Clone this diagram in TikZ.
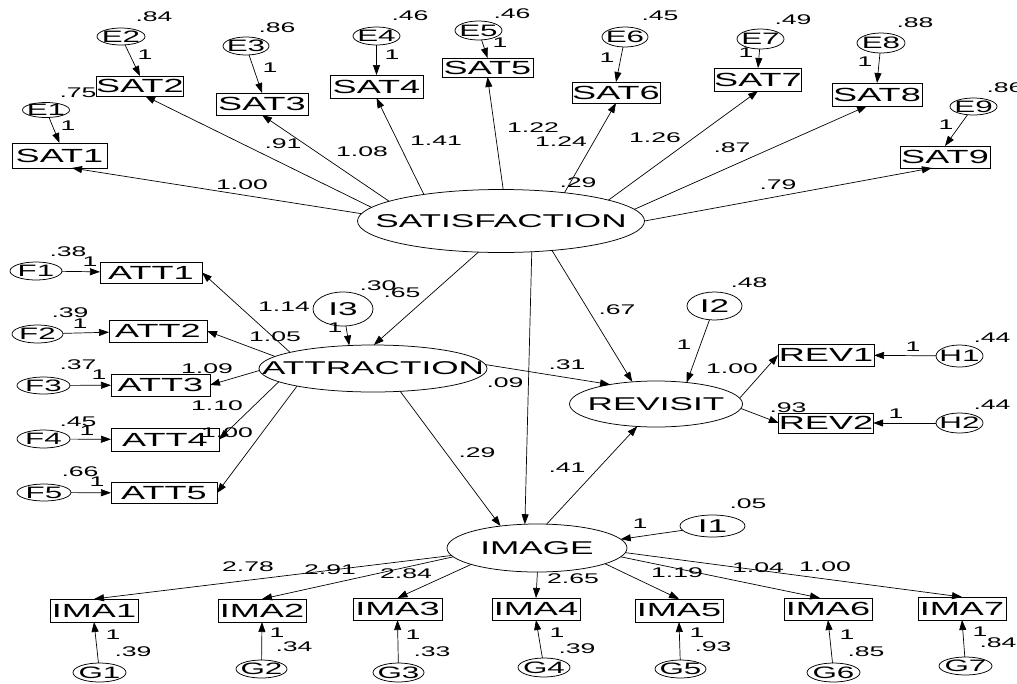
\documentclass[tikz,border=0pt]{standalone}
\usepackage{fontspec}
\setmainfont{Liberation Sans}[FakeStretch=1.9]
\usetikzlibrary{shapes.geometric,arrows.meta}
\newcommand\latfont{\fontsize{18.5}{18.5}\selectfont}
\newcommand\errfont{\fontsize{16.5}{16.5}\selectfont}
\newcommand\obsfont{\fontsize{19}{19}\selectfont}
\newcommand\numfont{\fontsize{14}{14}\selectfont}
\begin{document}
\begin{tikzpicture}[x=1pt,y=-1pt,
  every node/.style={inner sep=0pt,outer sep=0pt},
  obs/.style={draw,rectangle,line width=0.75pt,font=\obsfont},
  lat/.style={draw,ellipse,line width=0.75pt,label={[font=\latfont]center:#1}},
  err/.style={draw,ellipse,line width=0.75pt,label={[font=\errfont]center:#1}},
  num/.style={font=\numfont},
  arr/.style={draw,line width=0.7pt,-{Triangle[length=10pt,width=7pt]}},
]
\useasboundingbox (0,0) rectangle (1017,683);
% ---------- SATISFACTION block
\node[lat=SATISFACTION,minimum width=287pt,minimum height=63pt] (sat) at (501,221) {};
\node[obs,minimum width=95pt,minimum height=25pt] (sat1) at (59.5,155.5) {SAT1};
\node[obs,minimum width=86pt,minimum height=20pt] (sat2) at (140,86) {SAT2};
\node[obs,minimum width=92pt,minimum height=22pt] (sat3) at (262,104) {SAT3};
\node[obs,minimum width=93pt,minimum height=23pt] (sat4) at (376.5,86.5) {SAT4};
\node[obs,minimum width=91pt,minimum height=19pt] (sat5) at (487.5,67.5) {SAT5};
\node[obs,minimum width=88pt,minimum height=21pt] (sat6) at (616,92.5) {SAT6};
\node[obs,minimum width=84pt,minimum height=23pt] (sat7) at (758,79.5) {SAT7};
\node[obs,minimum width=90pt,minimum height=23pt] (sat8) at (877,94.5) {SAT8};
\node[obs,minimum width=90pt,minimum height=22pt] (sat9) at (945,157) {SAT9};
\node[err=E1,minimum width=47pt,minimum height=15pt] (e1) at (46,110) {};
\node[err=E2,minimum width=48pt,minimum height=17pt] (e2) at (121,36.5) {};
\node[err=E3,minimum width=46pt,minimum height=18pt] (e3) at (246,46) {};
\node[err=E4,minimum width=47pt,minimum height=18pt] (e4) at (376.5,36) {};
\node[err=E5,minimum width=47pt,minimum height=19pt] (e5) at (478.5,30.5) {};
\node[err=E6,minimum width=46pt,minimum height=20pt] (e6) at (625,37) {};
\node[err=E7,minimum width=47pt,minimum height=20pt] (e7) at (760.5,39) {};
\node[err=E8,minimum width=48pt,minimum height=20pt] (e8) at (881,43) {};
\node[err=E9,minimum width=47pt,minimum height=17pt] (e9) at (973.5,106.5) {};
% ---------- ATTRACTION block
\node[lat=ATTRACTION,minimum width=228pt,minimum height=47pt] (att) at (373,368.5) {};
\node[lat=I3,minimum width=60pt,minimum height=34pt] (i3) at (343,309) {};
\node[obs,minimum width=102pt,minimum height=21pt] (att1) at (151,272.5) {ATT1};
\node[obs,minimum width=98pt,minimum height=22pt] (att2) at (158,331) {ATT2};
\node[obs,minimum width=99pt,minimum height=22pt] (att3) at (160.5,385) {ATT3};
\node[obs,minimum width=108pt,minimum height=23pt] (att4) at (165,439.5) {ATT4};
\node[obs,minimum width=106pt,minimum height=21pt] (att5) at (164,493) {ATT5};
\node[err=F1,minimum width=52pt,minimum height=18pt] (f1) at (36,271) {};
\node[err=F2,minimum width=51pt,minimum height=18pt] (f2) at (37.5,334) {};
\node[err=F3,minimum width=53pt,minimum height=17pt] (f3) at (43.5,385.5) {};
\node[err=F4,minimum width=53pt,minimum height=18pt] (f4) at (43.5,439) {};
\node[err=F5,minimum width=54pt,minimum height=17pt] (f5) at (44,492.5) {};
% ---------- REVISIT block
\node[lat=REVISIT,minimum width=173pt,minimum height=46pt] (rev) at (656,404) {};
\node[lat=I2,minimum width=55pt,minimum height=28pt] (i2) at (714.5,306) {};
\node[obs,minimum width=96pt,minimum height=22pt] (rev1) at (826,355) {REV1};
\node[obs,minimum width=88pt,minimum height=20pt] (rev2) at (826,423) {REV2};
\node[err=H1,minimum width=47pt,minimum height=22pt] (h1) at (959.5,356) {};
\node[err=H2,minimum width=47pt,minimum height=20pt] (h2) at (959.5,423) {};
% ---------- IMAGE block
\node[lat=IMAGE,minimum width=180pt,minimum height=48pt] (img) at (537,548) {};
\node[lat=I1,minimum width=65pt,minimum height=22pt] (i1) at (712.5,526) {};
\node[obs,minimum width=88pt,minimum height=23pt] (ima1) at (94,610.5) {IMA1};
\node[obs,minimum width=88pt,minimum height=23pt] (ima2) at (262,610.5) {IMA2};
\node[obs,minimum width=89pt,minimum height=22pt] (ima3) at (397.5,609) {IMA3};
\node[obs,minimum width=88pt,minimum height=22pt] (ima4) at (536,609) {IMA4};
\node[obs,minimum width=88pt,minimum height=23pt] (ima5) at (679,610.5) {IMA5};
\node[obs,minimum width=88pt,minimum height=22pt] (ima6) at (828,609) {IMA6};
\node[obs,minimum width=88pt,minimum height=23pt] (ima7) at (962,608.5) {IMA7};
\node[err=G1,minimum width=53pt,minimum height=19pt] (g1) at (99.5,672.5) {};
\node[err=G2,minimum width=51pt,minimum height=18pt] (g2) at (261.5,669) {};
\node[err=G3,minimum width=51pt,minimum height=19pt] (g3) at (398.5,672.5) {};
\node[err=G4,minimum width=52pt,minimum height=19pt] (g4) at (544,667.5) {};
\node[err=G5,minimum width=51pt,minimum height=18pt] (g5) at (680.5,669) {};
\node[err=G6,minimum width=53pt,minimum height=19pt] (g6) at (833.5,672.5) {};
\node[err=G7,minimum width=53pt,minimum height=18pt] (g7) at (965.5,666) {};
% ---------- arrows: SATISFACTION
\draw[arr] (e1) -- (sat1.north);
\draw[arr] (e2) -- (sat2.north);
\draw[arr] (e3) -- (sat3.north);
\draw[arr] (e4) -- (sat4.north);
\draw[arr] (e5) -- (sat5.north);
\draw[arr] (e6) -- (sat6.north);
\draw[arr] (e7) -- (sat7.north);
\draw[arr] (e8) -- (sat8.north);
\draw[arr] (e9) -- (sat9.north);
\draw[arr] (sat.177.6) -- (sat1.-45);
\draw[arr] (sat.174.2) -- (sat2.-63);
\draw[arr] (sat.170.5) -- (sat3.south);
\draw[arr] (sat.161.8) -- (sat4.south);
\draw[arr] (sat.86.3) -- (sat5.south);
\draw[arr] (sat.24.4) -- (sat6.south);
\draw[arr] (sat.11.1) -- (sat7.south);
\draw[arr] (sat.5.6) -- (sat8.-131);
\draw[arr] (sat.0) -- (sat9.-140);
% ---------- arrows: ATTRACTION
\draw[arr] (sat.234) -- (att.88);
\draw[arr] (i3) -- (att.136);
\draw[arr] (att.169) -- (att1.east);
\draw[arr] (att.173.7) -- (att2.east);
\draw[arr] (att.181) -- (att3.east);
\draw[arr] (att.188) -- (att4.east);
\draw[arr] (att.193.5) -- (att5.east);
\draw[arr] (f1) -- (att1);
\draw[arr] (f2) -- (att2);
\draw[arr] (f3) -- (att3);
\draw[arr] (f4) -- (att4);
\draw[arr] (f5) -- (att5);
% ---------- arrows: structural
\draw[arr] (att.2.5) -- (rev.157.4);
\draw[arr] (att.-40.6) -- (img.149);
\draw[arr] (sat.-30.3) -- (rev.137);
\draw[arr] (sat.-45.9) -- (img.117.5);
\draw[arr] (i2) -- (rev.35.7);
\draw[arr] (img.68.6) -- (rev.230.7);
\draw[arr] (i1) -- (img.6);
% ---------- arrows: REVISIT
\draw[arr] (rev.4.7) -- (rev1.west);
\draw[arr] (rev.-3.3) -- (rev2.west);
\draw[arr] (h1) -- (rev1);
\draw[arr] (h2) -- (rev2);
% ---------- arrows: IMAGE
\draw[arr] (img.185) -- (ima1.north);
\draw[arr] (img.186.5) -- (ima2.north);
\draw[arr] (img.194) -- (ima3.north);
\draw[arr] (img.-89) -- (ima4.north);
\draw[arr] (img.-13.7) -- (ima5.north);
\draw[arr] (img.-6) -- (ima6.126);
\draw[arr] (img.-3.2) -- (ima7.north);
\draw[arr] (g1) -- (ima1.south);
\draw[arr] (g2) -- (ima2.south);
\draw[arr] (g3) -- (ima3.south);
\draw[arr] (g4) -- (ima4.south);
\draw[arr] (g5) -- (ima5.south);
\draw[arr] (g6) -- (ima6.south);
\draw[arr] (g7) -- (ima7.south);
% ---------- numbers: SATISFACTION
\node[num] (ve1) at (78,93) {.75};   \node[num] (w1) at (68,126) {1};
\node[num] (ve2) at (154,17) {.84};  \node[num] (w2) at (145,55) {1};
\node[num] (ve3) at (277,28) {.86};  \node[num] (w3) at (270,68) {1};
\node[num] (ve4) at (410,16) {.46};  \node[num] (w4) at (392,55) {1};
\node[num] (ve5) at (512,14) {.46};  \node[num] (w5) at (500,43) {1};
\node[num] (ve6) at (660,16) {.45};  \node[num] (w6) at (607,58) {1};
\node[num] (ve7) at (793,20) {.49};  \node[num] (w7) at (746,53) {1};
\node[num] (ve8) at (915,23) {.88};  \node[num] (w8) at (865,62) {1};
\node[num] (ve9) at (1005,88) {.86}; \node[num] (w9) at (946,125) {1};
\node[num] (l1) at (242,185) {1.00};
\node[num] (l2) at (283,144) {.91};
\node[num] (l3) at (362,152) {1.08};
\node[num] (l4) at (436,141) {1.41};
\node[num] (l5) at (533,128) {1.22};
\node[num] (l6) at (561,142) {1.24};
\node[num] (r29) at (578,183) {.29};
\node[num] (l7) at (655,138) {1.26};
\node[num] (l8) at (732,148) {.87};
\node[num] (l9) at (778,185) {.79};
% ---------- numbers: ATTRACTION
\node[num] (vf1) at (68,252) {.38};  \node[num] (wf1) at (90,262) {1};
\node[num] (vf2) at (70,313) {.39};  \node[num] (wf2) at (80,324) {1};
\node[num] (vf3) at (78,365) {.37};  \node[num] (wf3) at (99,375) {1};
\node[num] (vf4) at (78,422) {.45};  \node[num] (wf4) at (87,431) {1};
\node[num] (vf5) at (80,472) {.66};  \node[num] (wf5) at (97,482) {1};
\node[num] (a1) at (284,307) {1.14};
\node[num] (a2) at (275,337) {1.05};
\node[num] (a3) at (207,369) {1.09};
\node[num] (a4) at (217,406) {1.10};
\node[num] (a5) at (227,433) {1.00};
\node[num] (r30) at (378,286) {.30};
\node[num] (p65) at (402,293) {.65};
\node[num] (wi3) at (335,328) {1};
% ---------- numbers: structural / REVISIT
\node[num] (p67) at (617,310) {.67};
\node[num] (p31) at (567,365) {.31};
\node[num] (p09) at (505,383) {.09};
\node[num] (p29) at (477,453) {.29};
\node[num] (p41) at (567,468) {.41};
\node[num] (r48) at (749,283) {.48};
\node[num] (wi2) at (684,345) {1};
\node[num] (b1) at (732,369) {1.00};
\node[num] (b2) at (788,408) {.93};
\node[num] (wh1) at (913,347) {1};
\node[num] (vh1) at (992,338) {.44};
\node[num] (wh2) at (896,414) {1};
\node[num] (vh2) at (992,405) {.44};
% ---------- numbers: IMAGE
\node[num] (r05) at (748,504) {.05};
\node[num] (wi1) at (640,524) {1};
\node[num] (c1) at (248,567) {2.78};
\node[num] (c2) at (330,570) {2.91};
\node[num] (c3) at (406,574) {2.84};
\node[num] (c4) at (573,579) {2.65};
\node[num] (c5) at (677,573) {1.19};
\node[num] (c6) at (758,568) {1.04};
\node[num] (c7) at (825,567) {1.00};
\node[num] (wg1) at (113,635) {1}; \node[num] (vg1) at (133,652) {.39};
\node[num] (wg2) at (277,633) {1}; \node[num] (vg2) at (294,647) {.34};
\node[num] (wg3) at (413,635) {1}; \node[num] (vg3) at (432,652) {.33};
\node[num] (wg4) at (557,633) {1}; \node[num] (vg4) at (577,649) {.39};
\node[num] (wg5) at (697,633) {1}; \node[num] (vg5) at (713,647) {.93};
\node[num] (wg6) at (847,635) {1}; \node[num] (vg6) at (866,652) {.85};
\node[num] (wg7) at (980,632) {1}; \node[num] (vg7) at (998,643) {.84};
\end{tikzpicture}
\end{document}
